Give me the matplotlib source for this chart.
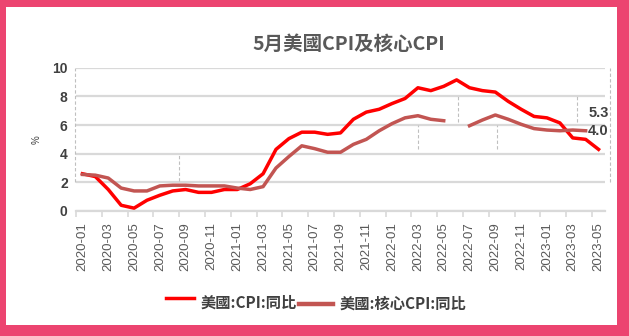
import numpy as np
import matplotlib
matplotlib.use("Agg")
import matplotlib.pyplot as plt
from matplotlib.lines import Line2D
from matplotlib.patches import Rectangle

# ---- data ----
months = [f"{y}-{m:02d}" for y in (2020, 2021, 2022, 2023) for m in range(1, 13)][:41]
cpi = [2.6, 2.4, 1.5, 0.4, 0.2, 0.75, 1.1, 1.4, 1.5, 1.3, 1.3, 1.5,
       1.5, 1.9, 2.6, 4.3, 5.05, 5.5, 5.5, 5.35, 5.45, 6.4, 6.9, 7.1,
       7.5, 7.85, 8.6, 8.4, 8.7, 9.15, 8.6, 8.4, 8.3, 7.65, 7.1, 6.6,
       6.5, 6.15, 5.1, 5.0, 4.3]
core = [2.55, 2.5, 2.3, 1.6, 1.4, 1.4, 1.75, 1.8, 1.8, 1.75, 1.75, 1.75,
        1.6, 1.5, 1.7, 3.0, 3.8, 4.55, 4.35, 4.1, 4.1, 4.65, 5.0, 5.6,
        6.1, 6.5, 6.65, 6.4, 6.3, np.nan, 5.95, 6.35, 6.7, 6.4, 6.05, 5.75,
        5.65, 5.6, 5.65, 5.6, np.nan]
series_names = ["美國:CPI:同比", "美國:核心CPI:同比"]
title = "5月美國CPI及核心CPI"
end_labels = ["5.3", "4.0"]

CJK = ["Noto Sans CJK TC", "DejaVu Sans"]
LAT = ["Liberation Sans", "DejaVu Sans"]
RED = "#FF0000"
CORE = "#C25552"
GRID = "#D9D9D9"

W, H = 629, 336
fig = plt.figure(figsize=(W / 100, H / 100), dpi=100)
fig.patch.set_facecolor("white")

def fx(px):
    return px / W

def fy(py):
    return 1 - py / H

ax = fig.add_axes([fx(76), fy(211), fx(605) - fx(76), fy(67.7) - fy(211)])
x = np.arange(len(months))
ax.plot(x, cpi, color=RED, lw=2.5, solid_joinstyle="round", zorder=3)
ax.plot(x, core, color=CORE, lw=2.5, solid_joinstyle="round", zorder=4)

ax.set_xlim(-0.5, len(months) - 0.5)
ax.set_ylim(0, 10)
ax.set_yticks(np.arange(0, 11, 2))
ax.grid(axis="y", color=GRID, lw=1.6, zorder=0)
ax.set_axisbelow(True)
for s in ("top", "right", "left"):
    ax.spines[s].set_visible(False)
ax.spines["bottom"].set_color(GRID)
ax.spines["bottom"].set_linewidth(1.6)

ax.set_xticks(x[::2])
ax.set_xticklabels(months[::2], rotation=90, fontsize=9.5, color="#595959",
                   family=LAT)
ax.set_xticks(np.arange(-0.5, len(months), 2), minor=True)
ax.tick_params(axis="x", which="major", length=0, pad=8)
ax.tick_params(axis="x", which="minor", length=4, color=GRID, width=1.2)
ax.tick_params(axis="y", length=0, pad=6)
for t in ax.get_yticklabels():
    t.set_fontsize(10)
    t.set_fontweight("bold")
    t.set_color("#404040")
    t.set_family(LAT)

# decorative dashed leader lines seen in the reference
decor = [(-0.58, 2, 10), (40.85, 2, 10), (7.5, 2.1, 4.0), (26.0, 4.3, 6.0),
         (29.1, 6.2, 8.0), (32.1, 4.3, 6.0), (38.3, 6.2, 8.0)]
for dx, y0, y1 in decor:
    ax.plot([dx, dx], [y0, y1], ls=(0, (3, 2)), color="#BFBFBF", lw=0.8,
            clip_on=False, zorder=1)

# end labels
ax.text(39.2, 6.85, end_labels[0], fontsize=10.5, fontweight="bold",
        color="#404040", ha="left", va="center", family=LAT, clip_on=False)
ax.text(39.2, 5.6, end_labels[1], fontsize=10.5, fontweight="bold",
        color="#404040", ha="left", va="center", family=LAT, clip_on=False)

# y unit
fig.text(fx(37), fy(140), "%", rotation=90, fontsize=7, color="#404040",
         ha="center", va="center", family=LAT)

# title
fig.text(fx(349), fy(44), title, fontsize=14, fontweight="bold",
         color="#595959", ha="center", va="center", family=CJK)

# legend (manual)
fig.add_artist(Line2D([fx(166), fx(194)], [fy(298), fy(298)], color=RED, lw=2.5))
fig.text(fx(201), fy(303), series_names[0], fontsize=11, fontweight="bold",
         color="#404040", ha="left", va="center", family=CJK)
fig.add_artist(Line2D([fx(299), fx(333)], [fy(304), fy(304)], color=CORE, lw=3.2))
fig.text(fx(340), fy(304), series_names[1], fontsize=11, fontweight="bold",
         color="#404040", ha="left", va="center", family=CJK)

# pink frame
PINK = "#EC4470"
for (x0, y0, w, h) in [(0, 0, 6, H), (0, 0, W, 7), (617, 0, W - 617, H),
                       (0, 325, W, H - 325)]:
    fig.add_artist(Rectangle((fx(x0), fy(y0 + h)), w / W, h / H,
                             transform=fig.transFigure, color=PINK, lw=0))

fig.savefig("out.png", dpi=100)
